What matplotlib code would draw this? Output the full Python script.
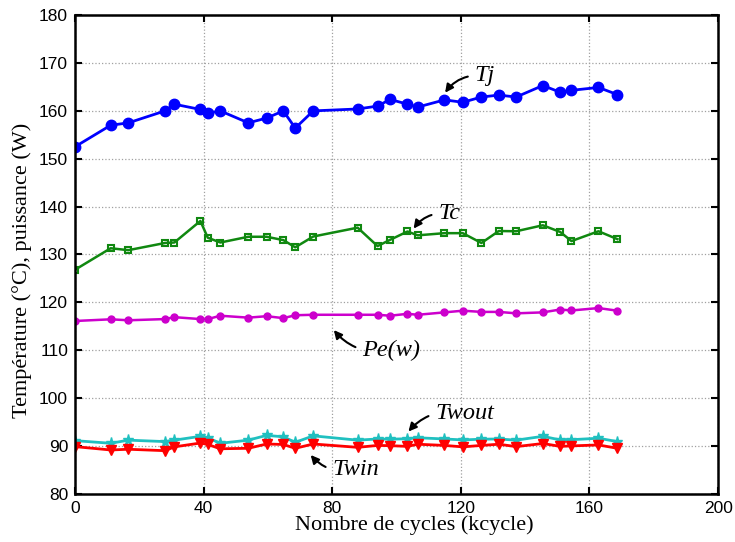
import numpy as np
import matplotlib
matplotlib.use('Agg')
import matplotlib.pyplot as plt

# cycle counts (kcycle), shared by every curve
cycles = [0, 11.1, 16.6, 28.0, 30.9, 39.0, 41.3, 45.2, 53.9, 59.6, 64.8, 68.5, 74.1,
          87.9, 94.1, 98.0, 103.4, 106.6, 114.9, 120.6, 126.4, 131.8, 137.2, 145.5,
          150.9, 154.4, 162.8, 168.7]

tj = [152.5, 157.0, 157.5, 160.0, 161.4, 160.3, 159.5, 160.0, 157.5, 158.5, 160.0, 156.4,
      160.0, 160.4, 161.0, 162.4, 161.4, 160.8, 162.3, 161.8, 162.9, 163.3, 162.9, 165.3,
      163.9, 164.3, 164.9, 163.4]
tc = [126.8, 131.3, 130.9, 132.4, 132.5, 137.0, 133.5, 132.5, 133.7, 133.7, 133.0, 131.5,
      133.75, 135.6, 131.75, 133.06, 134.8, 134.0, 134.45, 134.45, 132.4, 134.9, 134.85,
      136.1, 134.7, 132.8, 134.85, 133.2]
pe = [116.1, 116.45, 116.25, 116.5, 116.9, 116.5, 116.5, 117.2, 116.8, 117.1, 116.7, 117.3,
      117.4, 117.4, 117.4, 117.2, 117.6, 117.4, 117.9, 118.25, 118.0, 118.0, 117.7, 117.9,
      118.5, 118.3, 118.8, 118.25]
twout = [91.1, 90.55, 91.2, 90.9, 91.2, 92.0, 91.7, 90.55, 91.2, 92.2, 91.9, 90.75, 92.1,
         91.2, 91.45, 91.4, 91.5, 91.7, 91.45, 91.25, 91.4, 91.45, 91.2, 92.0, 91.25, 91.3,
         91.6, 90.9]
twin = [89.85, 89.15, 89.3, 89.0, 89.8, 90.6, 90.3, 89.4, 89.5, 90.4, 90.3, 89.5, 90.4,
        89.7, 90.1, 90.05, 89.9, 90.35, 90.1, 89.8, 90.1, 90.35, 89.85, 90.5, 89.9, 90.0,
        90.2, 89.5]

xticks = [0, 40, 80, 120, 160, 200]
yticks = [80, 90, 100, 110, 120, 130, 140, 150, 160, 170, 180]

# (text, text position, arrow head, arrow curvature)
notes = [
    ('Tj', (124.3, 167.3), (115.1, 163.8), 0.3),
    ('Tc', (113.0, 138.5), (105.3, 135.4), 0.3),
    ('Pe(w)', (89.3, 110.0), (80.5, 114.2), -0.3),
    ('Twout', (112.0, 96.8), (103.7, 93.0), 0.3),
    ('Twin', (80.0, 85.0), (73.3, 88.1), -0.3),
]

fig = plt.figure(figsize=(7.35, 5.42), dpi=100)
ax = fig.add_axes([0.102, 0.089, 0.875, 0.883])

ax.plot(cycles, tj, '-o', color='#0000ff', lw=2, ms=7.5)
ax.plot(cycles, tc, '-s', color='#108810', lw=1.8, ms=4.8, mfc='none', mew=1.5)
ax.plot(cycles, pe, '-o', color='#cc00cc', lw=1.8, ms=5)
ax.plot(cycles, twout, '-*', color='#20c0c0', lw=2, ms=8)
ax.plot(cycles, twin, '-v', color='#ff0000', lw=2, ms=6.5)

serif = ['Liberation Serif', 'DejaVu Serif']
for txt, pos, head, rad in notes:
    ax.annotate(txt, xy=head, xytext=pos, fontsize=17.5, family=serif, style='italic',
                va='center', ha='left',
                arrowprops=dict(arrowstyle='-|>', color='black', lw=1.5,
                                connectionstyle='arc3,rad=%s' % rad,
                                shrinkA=3, shrinkB=0, mutation_scale=12))

ax.set_xlim(0, 200)
ax.set_ylim(80, 180)
ax.set_xticks(xticks)
ax.set_yticks(yticks)
ax.grid(True, color='#a0a0a0', ls=':', lw=0.9)
ax.tick_params(direction='in', top=True, right=True, length=5, width=1.5,
               labelsize=12.5, pad=5)
for lab in ax.get_xticklabels() + ax.get_yticklabels():
    lab.set_family(['Liberation Sans', 'DejaVu Sans'])
for s in ax.spines.values():
    s.set_linewidth(1.8)

ax.set_xlabel('Nombre de cycles (kcycle)', fontsize=16, family=serif, va='center')
ax.xaxis.set_label_coords(0.527, -0.066)
ax.set_ylabel('Température (°C), puissance (W)', fontsize=16, family=serif, va='center')
ax.yaxis.set_label_coords(-0.083, 0.466)

fig.savefig('out.png', dpi=100)
